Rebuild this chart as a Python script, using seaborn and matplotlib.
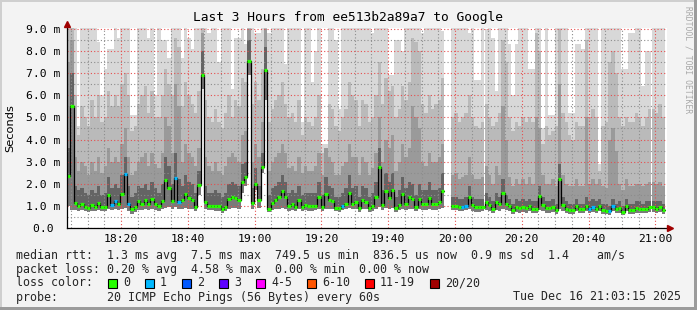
import numpy as np
import pandas as pd
import seaborn as sns
import matplotlib
matplotlib.use("Agg")
import matplotlib.pyplot as plt
import matplotlib.dates as mdates
from matplotlib.patches import Rectangle

nan = np.nan

# ---------------- data ----------------
start_time = "2025-12-16 18:03:50"

median_ms = [
    2.35, 5.5, 1.15, 1.0, 1.08, 0.97, 0.9, 1.04, 0.97, 1.14,
    0.97, 0.97, 1.5, 1.05, 1.23, 1.1, 1.55, 2.45, 1.1, 0.86,
    0.97, 1.2, 1.1, 1.27, 1.07, 1.33, 1.1, 1.0, 1.23, 2.17,
    1.8, 1.23, 2.26, 1.19, 1.25, 1.55, 1.36, 1.27, 0.97, 1.95,
    6.92, 1.19, 1.0, 1.0, 1.0, 1.0, 0.88, 0.97, 1.32, 1.4,
    1.35, 1.25, 2.08, 2.3, 7.53, 1.14, 2.0, 1.27, 2.78, 7.15,
    0.88, 1.12, 1.25, 1.38, 1.68, 1.42, 1.0, 1.08, 0.97, 1.25,
    0.94, 1.03, 0.98, 1.0, 1.0, 1.4, 0.96, 1.55, 1.25, 1.2,
    0.91, 0.91, 1.0, 1.1, 1.6, 1.1, 1.19, 0.9, 1.25, 1.19,
    0.9, 1.0, 1.4, 2.77, 1.06, 1.69, 1.36, 1.72, 0.91, 1.06,
    1.54, 1.1, 1.4, 1.32, 0.97, 1.32, 1.1, 1.1, 1.36, 1.1,
    1.1, 1.16, 1.69, nan, nan, 1.0, 1.0, 0.97, 0.97, 1.0,
    1.4, 1.05, 0.94, 0.94, 0.97, 1.16, 1.03, 0.85, 1.19, 1.08,
    1.6, 1.1, 1.0, 0.82, 0.94, 0.91, 0.97, 0.91, 1.0, 0.88,
    0.88, 1.45, 1.06, 0.9, 0.91, 0.94, 0.82, 2.2, 1.03, 0.86,
    0.82, 0.82, 1.0, 0.85, 0.85, 1.0, 0.88, 0.96, 0.88, 1.0,
    0.82, 0.79, 0.76, 1.0, 0.85, 0.91, 0.74, 1.0, 0.82, 0.82,
    0.9, 0.88, 0.85, 0.88, 0.94, 0.94, 0.88, 0.94, 0.82,
]

loss_count = [
    0, 0, 0, 0, 0, 0, 0, 0, 0, 0,
    0, 0, 0, 1, 1, 0, 0, 1, 1, 0,
    0, 0, 0, 0, 0, 0, 0, 0, 0, 0,
    0, 0, 1, 1, 0, 0, 0, 0, 0, 0,
    0, 0, 0, 0, 0, 0, 0, 0, 0, 0,
    0, 0, 0, 0, 0, 0, 0, 0, 0, 0,
    0, 0, 0, 0, 0, 0, 0, 0, 0, 0,
    0, 0, 0, 0, 0, 0, 0, 0, 0, 0,
    0, 0, 1, 0, 0, 0, 0, 0, 0, 0,
    0, 0, 0, 0, 0, 0, 0, 0, 0, 0,
    0, 0, 0, 0, 0, 0, 0, 0, 0, 0,
    0, 0, 0, 0, 0, 0, 0, 0, 1, 1,
    0, 0, 0, 0, 0, 0, 0, 0, 0, 0,
    0, 0, 0, 0, 0, 0, 0, 0, 0, 0,
    0, 0, 0, 0, 0, 0, 0, 0, 0, 0,
    0, 0, 0, 0, 0, 0, 1, 1, 0, 0,
    0, 0, 1, 1, 0, 0, 0, 0, 0, 0,
    0, 0, 0, 0, 0, 0, 0, 0, 0,
]

ping_min = [
    1.0, 0.8, 0.8, 0.75, 0.8, 0.75, 0.72, 0.78, 0.75, 0.8,
    0.75, 0.78, 0.85, 0.8, 0.85, 0.8, 0.85, 0.9, 0.75, 0.65,
    0.72, 0.8, 0.8, 0.85, 0.8, 0.85, 0.8, 0.75, 0.85, 0.9,
    0.95, 0.85, 0.95, 0.85, 0.85, 0.9, 0.85, 0.85, 0.75, 1.5,
    6.3, 0.85, 0.8, 0.8, 0.78, 0.78, 0.7, 0.75, 0.85, 0.9,
    0.9, 0.85, 1.6, 1.9, 6.9, 0.85, 1.7, 0.9, 2.5, 5.8,
    0.72, 0.8, 0.85, 0.85, 0.9, 0.85, 0.78, 0.8, 0.75, 0.85,
    0.75, 0.8, 0.78, 0.78, 0.8, 0.85, 0.75, 0.85, 0.85, 0.85,
    0.75, 0.72, 0.8, 0.85, 0.9, 0.85, 0.85, 0.72, 0.85, 0.85,
    0.72, 0.78, 0.85, 0.95, 0.8, 0.9, 0.85, 0.9, 0.72, 0.8,
    0.85, 0.8, 0.85, 0.85, 0.75, 0.85, 0.8, 0.8, 0.85, 0.8,
    0.8, 0.85, 0.9, nan, nan, 0.8, 0.8, 0.78, 0.75, 0.8,
    0.85, 0.78, 0.72, 0.72, 0.75, 0.8, 0.75, 0.68, 0.8, 0.78,
    0.85, 0.8, 0.75, 0.65, 0.72, 0.7, 0.72, 0.7, 0.75, 0.68,
    0.68, 0.8, 0.78, 0.7, 0.7, 0.72, 0.65, 0.85, 0.75, 0.68,
    0.65, 0.65, 0.75, 0.68, 0.68, 0.75, 0.68, 0.72, 0.68, 0.75,
    0.65, 0.62, 0.6, 0.75, 0.68, 0.7, 0.6, 0.75, 0.65, 0.65,
    0.7, 0.68, 0.68, 0.68, 0.72, 0.72, 0.68, 0.72, 0.65,
]

ping_p60 = [
    3.6, 7.0, 1.9, 1.7, 1.8, 1.6, 1.5, 1.7, 1.6, 1.9,
    1.5, 1.6, 2.3, 1.8, 2.0, 1.8, 2.4, 3.2, 1.9, 1.4,
    1.6, 1.9, 1.8, 2.0, 1.7, 2.1, 1.8, 1.6, 2.0, 3.2,
    2.8, 2.0, 3.4, 2.2, 1.9, 2.4, 2.1, 2.0, 1.6, 2.6,
    8.0, 1.9, 1.6, 1.6, 1.7, 1.6, 1.4, 1.6, 2.0, 2.1,
    2.0, 1.9, 2.9, 3.0, 8.5, 1.8, 2.7, 1.9, 3.4, 8.2,
    1.5, 1.8, 1.9, 2.1, 2.4, 2.1, 1.6, 1.7, 1.6, 1.9,
    1.5, 1.6, 1.6, 1.6, 1.6, 2.1, 1.5, 2.3, 1.9, 1.8,
    1.4, 1.4, 1.6, 1.8, 2.4, 1.8, 1.9, 1.4, 1.9, 1.8,
    1.4, 1.6, 2.1, 3.6, 1.7, 2.5, 2.1, 2.5, 1.4, 1.7,
    2.3, 1.8, 2.1, 2.0, 1.5, 2.0, 1.7, 1.7, 2.1, 1.7,
    1.7, 1.8, 2.5, nan, nan, 1.4, 1.4, 1.3, 1.3, 1.4,
    1.9, 1.4, 1.3, 1.3, 1.3, 1.6, 1.4, 1.2, 1.6, 1.4,
    2.2, 1.5, 1.3, 1.1, 1.3, 1.2, 1.3, 1.2, 1.3, 1.2,
    1.2, 1.9, 1.4, 1.2, 1.2, 1.3, 1.1, 2.9, 1.4, 1.2,
    1.1, 1.1, 1.3, 1.1, 1.1, 1.4, 1.2, 1.3, 1.2, 1.3,
    1.1, 1.1, 1.0, 1.3, 1.1, 1.2, 1.0, 1.3, 1.1, 1.1,
    1.2, 1.2, 1.1, 1.2, 1.2, 1.2, 1.2, 1.2, 1.1,
]

ping_p75 = [
    7.5, 8.5, 3.2, 2.6, 3.0, 2.8, 2.4, 3.0, 2.6, 3.2,
    2.5, 2.8, 3.6, 3.0, 3.2, 3.0, 3.8, 4.5, 3.2, 2.4,
    2.6, 3.0, 3.2, 3.4, 2.8, 3.4, 2.9, 2.7, 3.4, 5.0,
    4.6, 3.4, 6.5, 5.5, 3.0, 3.8, 3.4, 3.2, 2.8, 3.6,
    8.8, 3.2, 2.8, 2.6, 3.0, 2.6, 2.4, 2.8, 3.2, 3.4,
    3.2, 3.0, 4.2, 4.4, 9.0, 3.0, 3.8, 3.2, 4.8, 9.0,
    2.6, 3.0, 3.2, 3.4, 3.8, 3.4, 2.7, 2.8, 2.6, 3.2,
    2.5, 2.8, 2.6, 2.6, 2.8, 3.4, 2.4, 3.6, 3.2, 3.0,
    2.4, 2.4, 2.8, 3.0, 3.8, 3.2, 3.2, 2.4, 3.2, 3.0,
    2.4, 2.7, 3.4, 5.0, 3.0, 4.0, 3.6, 4.2, 2.6, 3.0,
    3.8, 3.2, 3.6, 5.5, 5.0, 4.5, 3.0, 2.8, 3.4, 3.0,
    3.0, 3.2, 3.8, nan, nan, 2.4, 2.5, 2.2, 2.3, 2.4,
    3.2, 2.4, 2.2, 2.2, 2.3, 2.8, 2.4, 2.0, 2.8, 2.4,
    5.5, 4.0, 2.3, 1.9, 2.2, 2.0, 2.2, 2.0, 2.3, 2.0,
    5.0, 4.5, 2.4, 2.0, 2.0, 2.2, 1.9, 6.5, 2.4, 2.0,
    1.9, 1.9, 2.2, 1.9, 1.9, 5.0, 2.0, 2.2, 2.0, 2.2,
    1.9, 1.8, 4.0, 4.5, 3.5, 2.0, 1.7, 2.2, 1.9, 1.9,
    2.0, 2.0, 1.9, 2.0, 2.1, 2.1, 2.0, 2.1, 1.9,
]

ping_p90 = [
    9.0, 9.2, 6.0, 4.2, 5.5, 5.0, 4.6, 5.8, 5.0, 6.0,
    4.8, 5.0, 6.2, 5.5, 6.0, 5.5, 6.5, 7.0, 6.0, 4.4,
    4.6, 5.6, 6.0, 6.4, 5.2, 6.2, 5.0, 5.0, 6.0, 7.2,
    6.5, 6.0, 8.6, 8.2, 5.5, 6.6, 6.0, 5.6, 5.2, 6.2,
    9.3, 5.8, 5.0, 4.8, 5.4, 4.8, 4.5, 5.2, 6.0, 5.0,
    5.8, 5.5, 6.8, 6.6, 9.4, 5.6, 6.6, 5.8, 7.2, 9.3,
    4.8, 5.4, 5.8, 6.0, 6.6, 5.6, 5.0, 5.2, 4.8, 5.8,
    4.2, 5.0, 4.8, 4.6, 5.0, 6.0, 3.4, 3.6, 5.6, 5.4,
    4.6, 4.4, 5.0, 5.4, 6.6, 6.0, 5.8, 4.6, 5.8, 5.6,
    4.8, 5.0, 6.0, 7.5, 5.6, 6.8, 6.2, 6.4, 5.0, 5.4,
    6.4, 5.8, 6.6, 8.6, 8.4, 8.0, 5.6, 5.2, 6.0, 5.4,
    5.6, 5.8, 6.8, nan, nan, 5.0, 5.2, 4.8, 5.0, 5.2,
    6.0, 5.0, 4.6, 4.5, 4.8, 5.6, 5.0, 4.6, 4.8, 5.2,
    8.5, 7.5, 5.0, 4.4, 4.8, 4.6, 5.0, 4.8, 5.0, 4.8,
    8.8, 8.0, 3.8, 4.6, 4.2, 4.4, 4.6, 9.0, 5.2, 4.8,
    4.2, 4.0, 4.8, 4.6, 4.6, 8.5, 5.0, 5.4, 5.0, 2.6,
    4.6, 4.8, 7.5, 8.0, 7.0, 5.0, 4.6, 5.0, 4.8, 4.8,
    5.2, 5.0, 4.6, 5.0, 5.4, 5.4, 5.2, 5.6, 5.0,
]

ping_max = [
    9.5, 9.5, 9.5, 4.6, 9.5, 9.5, 9.5, 9.5, 9.5, 8.4,
    6.0, 7.2, 8.1, 8.1, 9.5, 8.6, 9.5, 9.5, 9.5, 5.1,
    5.1, 9.5, 9.5, 9.5, 8.6, 9.5, 6.0, 9.5, 8.5, 8.5,
    7.7, 9.5, 9.5, 9.5, 7.7, 9.5, 8.6, 8.1, 9.5, 9.5,
    9.5, 9.5, 8.8, 9.5, 9.5, 7.5, 9.5, 9.5, 9.5, 6.3,
    8.6, 8.6, 9.5, 8.3, 9.5, 9.5, 8.8, 8.8, 9.5, 9.5,
    8.8, 9.5, 9.5, 9.5, 9.5, 7.4, 9.5, 9.5, 9.5, 9.5,
    4.8, 9.5, 9.5, 6.6, 8.0, 9.5, 3.8, 3.8, 9.5, 9.5,
    8.5, 5.4, 9.5, 9.5, 9.5, 9.5, 9.5, 9.5, 9.5, 9.5,
    9.5, 8.8, 9.5, 9.5, 9.5, 9.5, 6.9, 6.9, 8.5, 8.5,
    8.0, 9.5, 9.5, 9.5, 9.5, 9.5, 8.8, 9.5, 9.5, 9.5,
    9.5, 9.5, 8.9, nan, nan, 9.5, 9.5, 9.5, 9.5, 9.5,
    8.8, 9.5, 6.7, 6.7, 9.5, 9.0, 9.5, 8.6, 6.2, 9.5,
    9.5, 9.5, 8.3, 6.0, 8.3, 9.5, 9.5, 9.5, 7.2, 7.2,
    9.5, 9.5, 4.5, 9.5, 5.1, 5.1, 9.5, 9.5, 9.5, 9.5,
    5.2, 5.2, 8.3, 8.3, 8.1, 9.5, 9.5, 9.5, 9.5, 2.9,
    9.5, 9.5, 9.5, 9.5, 9.5, 9.5, 7.2, 7.2, 8.8, 8.8,
    9.5, 9.5, 6.4, 8.0, 8.0, 9.5, 9.5, 9.5, 9.5,
]

y_ticks = [0, 1, 2, 3, 4, 5, 6, 7, 8, 9]
y_tick_labels = ["0.0 ", "1.0 m", "2.0 m", "3.0 m", "4.0 m", "5.0 m",
                 "6.0 m", "7.0 m", "8.0 m", "9.0 m"]

loss_labels = ["0", "1", "2", "3", "4-5", "6-10", "11-19", "20/20"]
loss_colors = ["#26ff00", "#00b8ff", "#0059ff", "#5e00ff",
               "#ff00ff", "#ff5500", "#ff0000", "#a10000"]

title = "Last 3 Hours from ee513b2a89a7 to Google"
line_rtt = "median rtt:  1.3 ms avg  7.5 ms max  749.5 us min  836.5 us now  0.9 ms sd  1.4    am/s"
line_loss = "packet loss: 0.20 % avg  4.58 % max  0.00 % min  0.00 % now"
line_probe = "probe:       20 ICMP Echo Pings (56 Bytes) every 60s"
stamp = "Tue Dec 16 21:03:15 2025"

n = len(median_ms)
for arr in (loss_count, ping_min, ping_p60, ping_p75, ping_p90, ping_max):
    assert len(arr) == n, len(arr)

# ---------------- drawing ----------------
sns.set_theme(style="white")
plt.rcParams["font.family"] = ["DejaVu Sans Mono", "DejaVu Sans"]

W, H = 697, 310
fig = plt.figure(figsize=(W / 100, H / 100), dpi=100, facecolor="#f3f3f3")
ax = fig.add_axes([67 / W, (H - 228) / H, 600 / W, 200 / H])
ax.set_facecolor("white")

times = pd.date_range(start_time, periods=n, freq="1min")
x = mdates.date2num(times.to_pydatetime())
w = 1 / 1440.0

med = np.array(median_ms, dtype=float)
bands = [
    (ping_min, median_ms, "#7a7a7a"),
    (median_ms, ping_p60, "#646464"),
    (ping_p60, ping_p75, "#9a9a9a"),
    (ping_p75, ping_p90, "#bababa"),
    (ping_p90, ping_max, "#d8d8d8"),
]
for lo, hi, col in bands:
    lo = np.array(lo, dtype=float)
    hi = np.array(hi, dtype=float)
    ax.bar(x, hi - lo, bottom=lo, width=w, align="edge", color=col,
           linewidth=0, antialiased=False, zorder=1)

# median step line (black), split at gaps
df = pd.DataFrame({"t": x, "med": med})
df["seg"] = df["med"].isna().cumsum()
df = df.dropna()
ends = df.groupby("seg").tail(1).copy()
ends["t"] = ends["t"] + w
df = pd.concat([df, ends]).sort_values(["seg", "t"])
sns.lineplot(data=df, x="t", y="med", units="seg", estimator=None,
             drawstyle="steps-post", color="black", linewidth=0.9,
             ax=ax, zorder=3, legend=False)

# loss-coloured median markers
def loss_col(c):
    if c <= 0:
        return loss_colors[0]
    if c == 1:
        return loss_colors[1]
    if c == 2:
        return loss_colors[2]
    if c == 3:
        return loss_colors[3]
    if c <= 5:
        return loss_colors[4]
    if c <= 10:
        return loss_colors[5]
    if c <= 19:
        return loss_colors[6]
    return loss_colors[7]

cols = [loss_col(c) for c in loss_count]
ok = ~np.isnan(med)
ax.hlines(med[ok], x[ok], x[ok] + w, colors=np.array(cols)[ok],
          linewidth=2.3, zorder=4)

# axes limits
ax.set_xlim(x[0], x[0] + 600 / 3.34 * w)
ax.set_ylim(0, 9.045)

# ticks & grid
ax.xaxis.set_major_locator(mdates.MinuteLocator(byminute=[0, 20, 40]))
ax.xaxis.set_minor_locator(mdates.MinuteLocator(byminute=range(0, 60, 5)))
ax.xaxis.set_major_formatter(mdates.DateFormatter("%H:%M"))
ax.set_yticks(y_ticks)
ax.set_yticklabels(y_tick_labels)
ax.set_yticks(np.arange(0.5, 9.0, 1.0), minor=True)

ax.set_axisbelow(False)
ax.grid(which="major", color=(0.9, 0.3, 0.3, 0.5), linestyle=(0, (1, 2)),
        linewidth=0.8)
ax.grid(which="minor", color=(0.55, 0.55, 0.55, 0.45), linestyle=(0, (1, 2)),
        linewidth=0.8)

ax.tick_params(axis="both", which="major", length=2.5, width=0.8,
               color="black", labelsize=8.2, labelcolor="black", direction="out")
ax.tick_params(axis="both", which="minor", length=1.5, width=0.6,
               color="black", direction="out")
ax.tick_params(axis="x", pad=2)
ax.tick_params(axis="y", pad=2)
ax.set_xlabel("")
ax.set_ylabel("")

for s in ("top", "right"):
    ax.spines[s].set_visible(False)
for s in ("left", "bottom"):
    ax.spines[s].set_color("black")
    ax.spines[s].set_linewidth(0.9)
    ax.spines[s].set_zorder(5)

# axis arrows
ax.plot([0], [1.0 + 4 / 200], marker="^", ms=4.5, color="#a00000",
        transform=ax.transAxes, clip_on=False, zorder=6)
ax.plot([1.0 + 3 / 600], [0], marker=">", ms=4.5, color="#a00000",
        transform=ax.transAxes, clip_on=False, zorder=6)

# y label
fig.text(10 / W, 1 - 128 / H, "Seconds", rotation=90, ha="center", va="center",
         fontsize=8.2, family="DejaVu Sans", color="black")

# title
fig.text(348 / W, 1 - 18 / H, title, ha="center", va="center",
         fontsize=9.3, color="black")

# watermark
fig.text(688 / W, 1 - 60 / H, "RRDTOOL / TOBI OETIKER", rotation=270,
         ha="center", va="center", fontsize=5.8, color="#a8a8a8")

# legend lines
fs = 8.4
fig.text(16 / W, 1 - 255 / H, line_rtt, ha="left", va="center", fontsize=fs)
fig.text(16 / W, 1 - 269 / H, line_loss, ha="left", va="center", fontsize=fs)
fig.text(16 / W, 1 - 283 / H, "loss color:", ha="left", va="center", fontsize=fs)
fig.text(16 / W, 1 - 297 / H, line_probe, ha="left", va="center", fontsize=fs)
fig.text(681 / W, 1 - 297 / H, stamp, ha="right", va="center", fontsize=fs)

box_x = [108, 145, 182, 219, 256, 307, 365, 430]
for bx, lab, col in zip(box_x, loss_labels, loss_colors):
    fig.patches.append(Rectangle((bx / W, 1 - 287.5 / H), 8.5 / W, 9 / H,
                                 transform=fig.transFigure, facecolor=col,
                                 edgecolor="black", linewidth=0.8))
    fig.text((bx + 15) / W, 1 - 283 / H, lab, ha="left", va="center", fontsize=fs)

# image frame (3d-ish border)
fig.patches.append(Rectangle((0, 1 - 2 / H), 1, 2 / H, transform=fig.transFigure,
                             facecolor="#cfcfcf", edgecolor="none"))
fig.patches.append(Rectangle((0, 0), 2 / W, 1, transform=fig.transFigure,
                             facecolor="#cfcfcf", edgecolor="none"))
fig.patches.append(Rectangle((0, 0), 1, 3 / H, transform=fig.transFigure,
                             facecolor="#9b9b9b", edgecolor="none"))
fig.patches.append(Rectangle((1 - 3 / W, 0), 3 / W, 1, transform=fig.transFigure,
                             facecolor="#9b9b9b", edgecolor="none"))

fig.savefig("out.png", dpi=100, facecolor=fig.get_facecolor())
